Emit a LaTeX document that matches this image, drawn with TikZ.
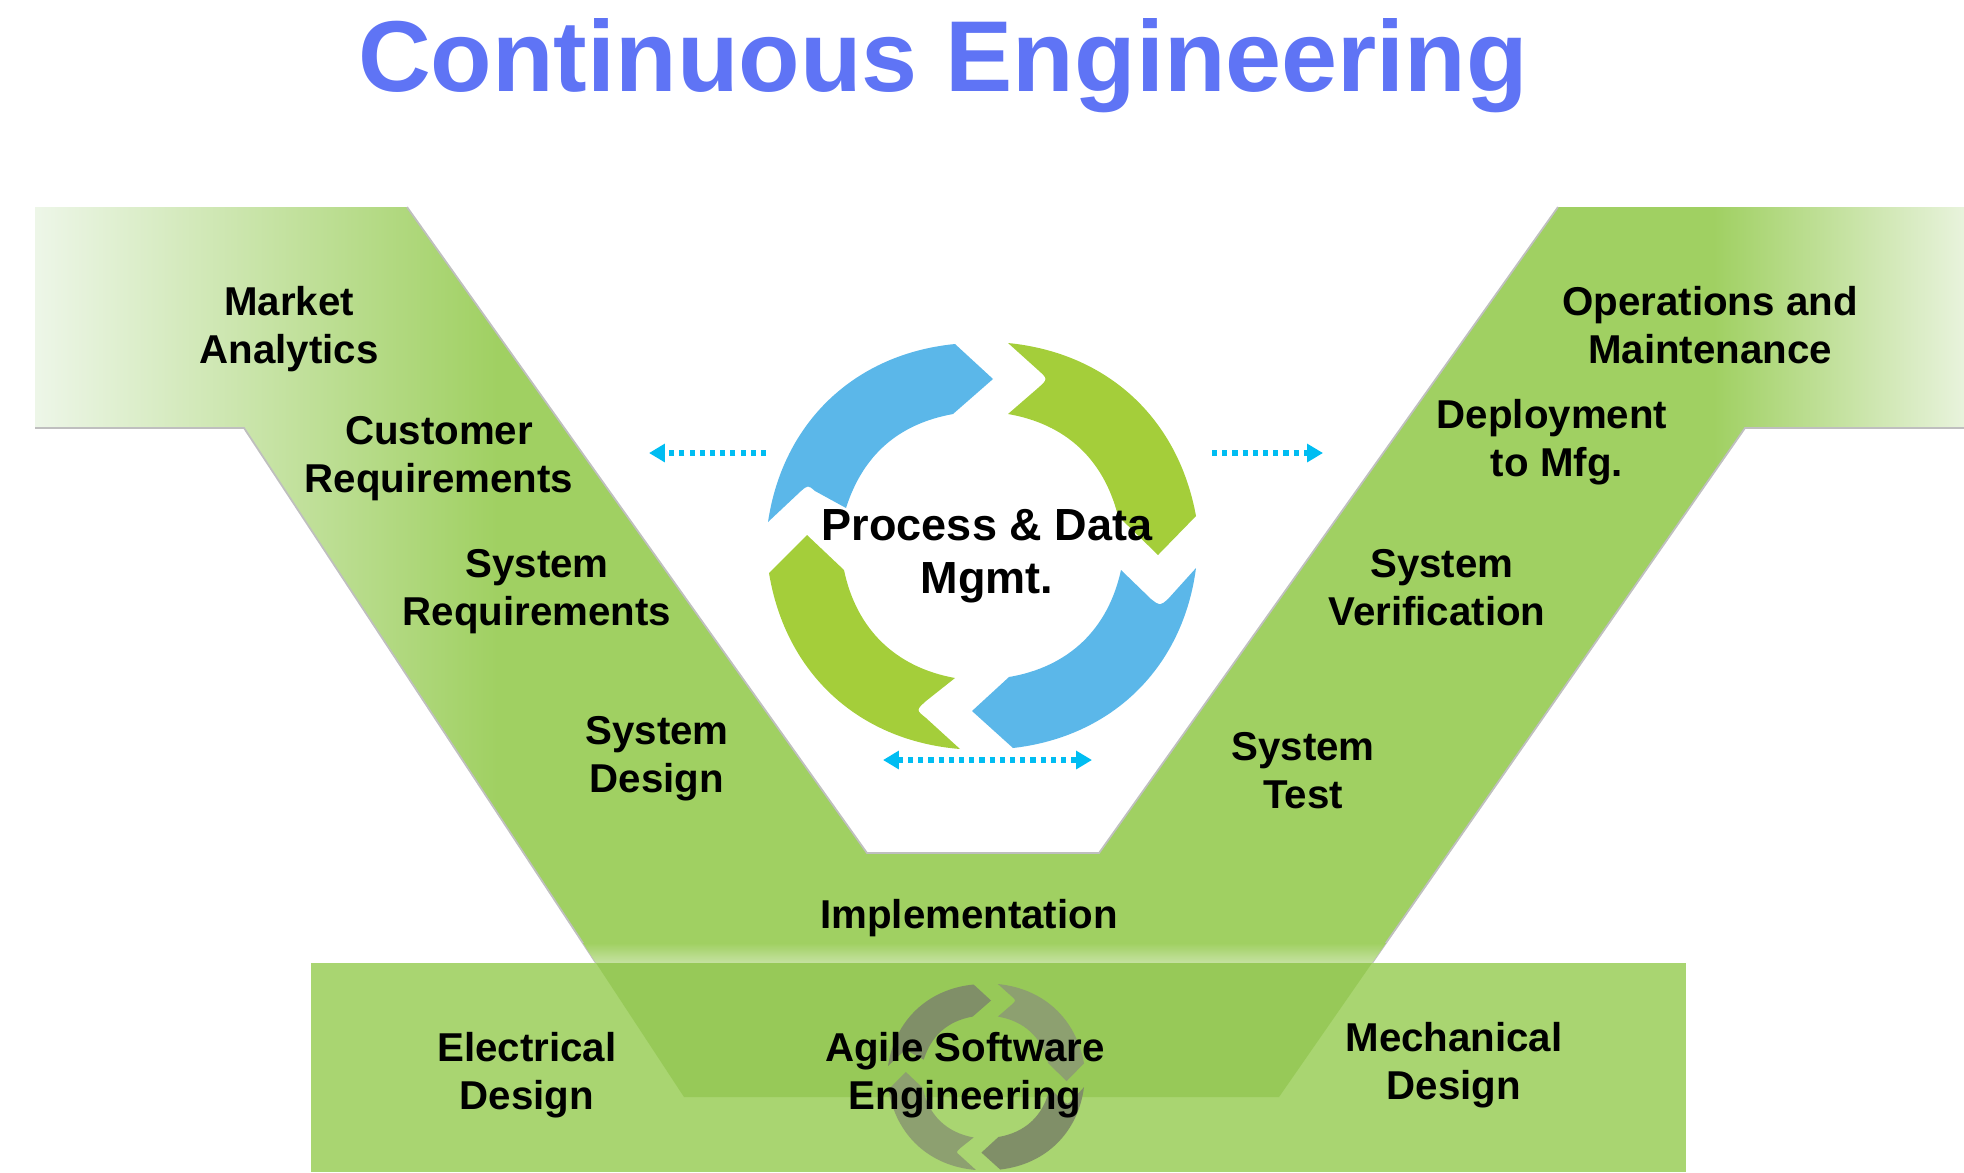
\documentclass[tikz,border=0pt]{standalone}
\usepackage{fontspec}
\setmainfont{Liberation Sans}
\usetikzlibrary{arrows.meta}
\definecolor{titleblue}{HTML}{5F74F5}
\definecolor{ringblue}{HTML}{5BB7E9}
\definecolor{ringgreen}{HTML}{A4CE3A}
\definecolor{dotblue}{HTML}{00BDF2}
\definecolor{vgreen}{HTML}{A0D062}
\definecolor{basegreen}{HTML}{A9D571}
\definecolor{overlapgreen}{HTML}{97C958}
\definecolor{glowgreen}{HTML}{C6E2A2}
\definecolor{fadedark}{HTML}{808F68}
\definecolor{fadelight}{HTML}{8DA070}
\pgfdeclarehorizontalshading{vband}{100bp}{
  rgb(0bp)=(0.93,0.965,0.91);
  rgb(25bp)=(0.93,0.965,0.91);
  rgb(37bp)=(0.627,0.816,0.384);
  rgb(68.5bp)=(0.627,0.816,0.384);
  rgb(75bp)=(0.91,0.953,0.863);
  rgb(100bp)=(0.91,0.953,0.863)}
\newcommand{\ringarrows}[2]{
  \fill[#1] (-214,-24) to[bend left=38] (-27,-202) -- (11,-167) -- (-29,-132)
    to[bend right=31] (-136,-38) -- (-167,-55) .. controls (-174,-61) .. (-181,-55) -- cycle;
  \fill[#2] (26,-203) to[bend left=37] (214,-30) -- (176,9) -- (136,-30)
    to[bend right=33] (26,-132) -- (56,-158) .. controls (66,-167) .. (56,-176) -- cycle;
  \fill[#1] (214,22) to[bend left=38] (31,202) -- (-10,165) -- (27,131)
    to[bend right=34] (139,24) -- (169,53) .. controls (178,60) .. (186,53) -- cycle;
  \fill[#2] (-213,27) to[bend right=38] (-22,203) -- (-56,172) .. controls (-66,164) .. (-56,155)
    -- (-27,132) to[bend left=34] (-138,24) -- (-175,-11) -- cycle;
}
\begin{document}
\begin{tikzpicture}[x=0.01cm,y=-0.01cm,
stage/.style ={text=black, font=\bfseries\fontsize{11.45}{13.65}\selectfont,
  align=center, inner sep=0pt
},
hub/.style ={text=black, font=\bfseries\fontsize{12.8}{15.2}\selectfont,
  align=center, inner sep=0pt
},
dotted arrow/.style ={draw=dotblue, line width=1.45pt, dash pattern=on 1.45pt off 1.45pt,
  -{Triangle[length=4.5pt,width=5pt]}
},
vedge/.style ={draw=black!25, line width=0.5pt
}]
\useasboundingbox (0,0) rectangle (1964,1172);
% the V
\shade[shading=vband] (35,207) -- (407,207) -- (867,853) -- (1099,853)
  -- (1558,207) -- (1964,207) -- (1964,428) -- (1745,428) -- (1279,1097) -- (684,1097)
  -- (244,428) -- (35,428) -- cycle;
\draw[vedge] (407,207) -- (867,853) -- (1099,853) -- (1558,207);
\draw[vedge] (35,428) -- (244,428) -- (596,963);
\draw[vedge] (1964,428) -- (1745,428) -- (1372,963);
\shade[top color=vgreen, bottom color=glowgreen] (583,943) -- (1386,943) -- (1372,963) -- (596,963) -- cycle;
% base band
\fill[basegreen] (311,963) rectangle (1686,1172);
\fill[overlapgreen] (596,963) -- (1372,963) -- (1279,1097) -- (684,1097) -- cycle;
% rings
\begin{scope}[shift={(986,1077)},scale=0.458]
\ringarrows{fadedark}{fadelight}
\end{scope}
\begin{scope}[shift={(982,546)}]
\ringarrows{ringblue}{ringgreen}
\end{scope}
% dotted arrows
\coordinate (leftstart) at (766,453);
\coordinate (leftend) at (649,453);
\coordinate (rightstart) at (1212,453);
\coordinate (rightend) at (1323,453);
\coordinate (lowleft) at (883,760);
\coordinate (lowright) at (1092,760);
\draw[dotted arrow] (leftstart) -- (leftend);
\draw[dotted arrow] (rightstart) -- (rightend);
\draw[dotted arrow, {Triangle[length=4.5pt,width=5pt]}-{Triangle[length=4.5pt,width=5pt]}] (lowleft) -- (lowright);
% texts
\node (title) at (943,66) [text=titleblue, inner sep=0pt, font=\bfseries\fontsize{28.65}{32}\selectfont] {Continuous Engineering};
\node (market) at (289,329) [stage] {Market\\Analytics};
\node (custreq) at (439,459) [stage] {Customer\\Requirements};
\node (sysreq) at (537,592) [stage] {System\\Requirements};
\node (sysdes) at (657,759) [stage] {System\\Design};
\node (impl) at (969,918) [stage] {Implementation};
\node (elec) at (527,1075) [stage] {Electrical\\Design};
\node (agile) at (965,1075) [stage] {Agile Software\\Engineering};
\node (mech) at (1454,1065) [stage] {Mechanical\\Design};
\node (systest) at (1303,771) [stage] {System\\Test};
\node (sysver) at (1437,588) [stage] {\hspace*{2.8pt}System\\Verification};
\node (deploy) at (1552,442) [stage] {Deployment\\\hspace*{2.8pt}to Mfg.};
\node (ops) at (1710,325) [stage] {Operations and\\Maintenance};
\node (process) at (987,556) [hub] {Process \& Data\\Mgmt.};
\end{tikzpicture}
\end{document}
